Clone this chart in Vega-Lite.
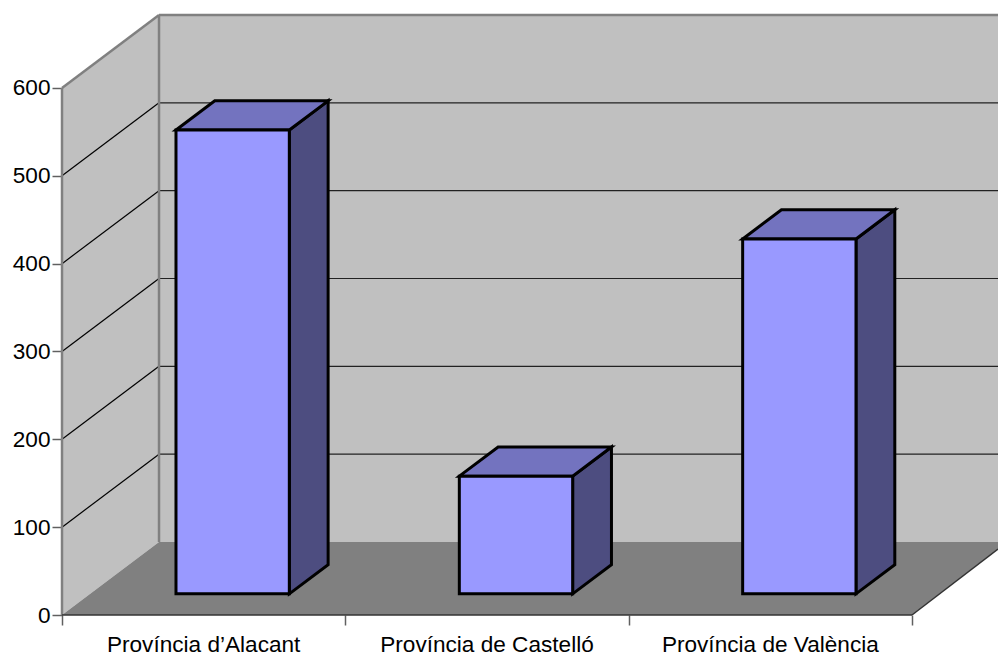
{
  "$schema": "https://vega.github.io/schema/vega-lite/v6.json",
  "width": 936,
  "height": 600,
  "autosize": {"type": "none"},
  "padding": {"left": 62, "top": 15, "right": 0, "bottom": 39},
  "background": "white",
  "config": {"view": {"stroke": null}, "font": "Liberation Sans"},
  "datasets": {
    "bars": [
      {"category": "Província d’Alacant", "slot": 0, "value": 528},
      {"category": "Província de Castelló", "slot": 1, "value": 134},
      {"category": "Província de València", "slot": 2, "value": 404}
    ],
    "grid": [{"tick": 100}, {"tick": 200}, {"tick": 300}, {"tick": 400}, {"tick": 500}]
  },
  "encoding": {
    "x": {
      "field": "across",
      "type": "quantitative",
      "scale": {"domain": [0, 3.3035], "nice": false, "zero": false},
      "axis": {
        "title": null, "values": [0, 1, 2, 3], "labels": false, "grid": false, "domain": false,
        "tickSize": 10, "tickColor": "#606060", "tickWidth": 1.5
      }
    },
    "y": {
      "field": "height",
      "type": "quantitative",
      "scale": {"domain": [0, 683.1], "nice": false, "zero": false},
      "axis": {
        "title": null, "values": [0, 100, 200, 300, 400, 500, 600], "grid": false, "domain": false,
        "tickSize": 10, "tickColor": "#606060", "tickWidth": 1.5, "labelPadding": 2,
        "labelFont": "Liberation Sans", "labelFontSize": 22.6, "labelColor": "black"
      }
    }
  },
  "layer": [
    {
      "description": "Back wall",
      "data": {"values": [{"across": 0.3424, "across2": 3.3035, "height": 83.1, "height2": 683.1}]},
      "mark": {"type": "rect", "color": "#C0C0C0"},
      "encoding": {"x2": {"field": "across2"}, "y2": {"field": "height2"}}
    },
    {
      "description": "Side wall",
      "data": {"values": [
        {"across": 0, "height": 600, "height2": 0},
        {"across": 0.3424, "height": 683.1, "height2": 83.1}
      ]},
      "mark": {"type": "area", "color": "#C0C0C0"},
      "encoding": {"y2": {"field": "height2"}}
    },
    {
      "description": "Floor",
      "data": {"values": [
        {"across": 0, "height": 0, "height2": 0},
        {"across": 0.3424, "height": 83.1, "height2": 0},
        {"across": 3, "height": 83.1, "height2": 0},
        {"across": 3.3035, "height": 83.1, "height2": 75}
      ]},
      "mark": {"type": "area", "color": "#808080"},
      "encoding": {"y2": {"field": "height2"}}
    },
    {
      "description": "Gridlines across the back wall",
      "data": {"name": "grid"},
      "transform": [
        {"calculate": "0.3424", "as": "across"},
        {"calculate": "3.3035", "as": "across2"},
        {"calculate": "datum.tick + 83.1", "as": "height"}
      ],
      "mark": {"type": "rule", "color": "#222222", "strokeWidth": 1.2},
      "encoding": {"x2": {"field": "across2"}}
    },
    {
      "description": "Gridlines running up the side wall",
      "data": {"name": "grid"},
      "transform": [
        {"calculate": "0", "as": "across"},
        {"calculate": "0.3424", "as": "across2"},
        {"calculate": "datum.tick", "as": "height"},
        {"calculate": "datum.tick + 83.1", "as": "height2"}
      ],
      "mark": {"type": "rule", "color": "#000000", "strokeWidth": 1.2},
      "encoding": {"x2": {"field": "across2"}, "y2": {"field": "height2"}}
    },
    {
      "description": "Grey wall outlines",
      "data": {"values": [
        {"across": 0.3424, "across2": 0.3424, "height": 83.1, "height2": 683.1},
        {"across": 0.3424, "across2": 3.3035, "height": 683.1, "height2": 683.1},
        {"across": 0, "across2": 0.3424, "height": 600, "height2": 683.1},
        {"across": 0, "across2": 0, "height": 0, "height2": 600}
      ]},
      "mark": {"type": "rule", "color": "#808080", "strokeWidth": 2.5},
      "encoding": {"x2": {"field": "across2"}, "y2": {"field": "height2"}}
    },
    {
      "description": "Front and right edges of the floor",
      "data": {"values": [
        {"across": 0, "across2": 3, "height": 0, "height2": 0},
        {"across": 3, "across2": 3.3035, "height": 0, "height2": 75}
      ]},
      "mark": {"type": "rule", "color": "#333333", "strokeWidth": 1.5},
      "encoding": {"x2": {"field": "across2"}, "y2": {"field": "height2"}}
    },
    {
      "description": "Bar side faces",
      "data": {"name": "bars"},
      "transform": [
        {"calculate": "0.29", "as": "near"},
        {"calculate": "0.69", "as": "far"},
        {"fold": ["near", "far"], "as": ["corner", "depth"]},
        {"calculate": "datum.slot + 0.303 + 0.4 + datum.depth * 0.3424", "as": "across"},
        {"calculate": "datum.value + datum.depth * 83.1", "as": "height"},
        {"calculate": "datum.depth * 83.1", "as": "height2"}
      ],
      "mark": {"type": "area", "color": "#4D4D80", "stroke": "black", "strokeWidth": 3, "strokeJoin": "miter"},
      "encoding": {"y2": {"field": "height2"}, "detail": {"field": "category"}}
    },
    {
      "description": "Bar top faces",
      "data": {"name": "bars"},
      "transform": [
        {"calculate": "0", "as": "c0"},
        {"calculate": "1", "as": "c1"},
        {"calculate": "2", "as": "c2"},
        {"calculate": "3", "as": "c3"},
        {"fold": ["c0", "c1", "c2", "c3"], "as": ["corner", "k"]},
        {"calculate": "datum.slot + 0.303 + (datum.k >= 2 ? 0.4 : 0) + (datum.k % 2 == 1 ? 0.69 : 0.29) * 0.3424", "as": "across"},
        {"calculate": "datum.value + (datum.k == 0 ? 0.29 : 0.69) * 83.1", "as": "height"},
        {"calculate": "datum.value + (datum.k == 3 ? 0.69 : 0.29) * 83.1", "as": "height2"}
      ],
      "mark": {"type": "area", "color": "#7373BF", "stroke": "black", "strokeWidth": 3, "strokeJoin": "miter"},
      "encoding": {"y2": {"field": "height2"}, "detail": {"field": "category"}}
    },
    {
      "description": "Bar front faces",
      "data": {"name": "bars"},
      "transform": [
        {"calculate": "datum.slot + 0.303 + 0.29 * 0.3424", "as": "across"},
        {"calculate": "datum.across + 0.4", "as": "across2"},
        {"calculate": "datum.value + 0.29 * 83.1", "as": "height"},
        {"calculate": "0.29 * 83.1", "as": "height2"}
      ],
      "mark": {"type": "rect", "color": "#9999FF", "stroke": "black", "strokeWidth": 3},
      "encoding": {"x2": {"field": "across2"}, "y2": {"field": "height2"}}
    },
    {
      "description": "Category labels under the front edge",
      "data": {"name": "bars"},
      "transform": [
        {"calculate": "datum.slot + 0.5", "as": "across"},
        {"calculate": "0", "as": "height"}
      ],
      "mark": {"type": "text", "font": "Liberation Sans", "fontSize": 22.6, "color": "black", "baseline": "top", "dy": 19},
      "encoding": {"text": {"field": "category"}}
    }
  ]
}
